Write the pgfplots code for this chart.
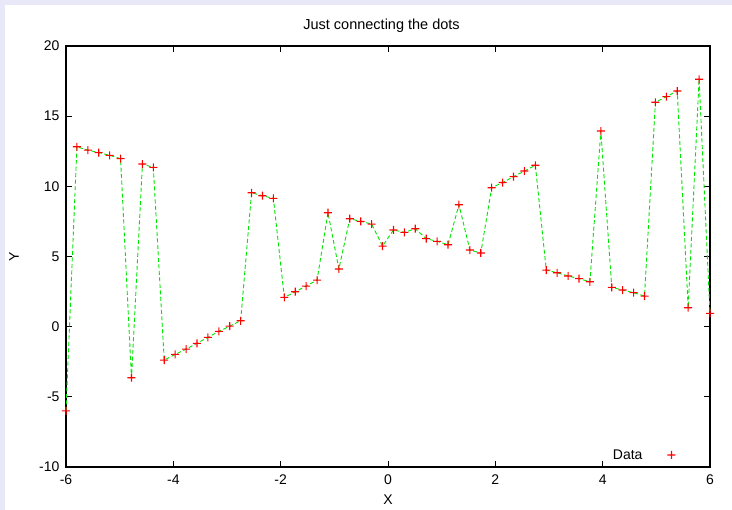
\documentclass[border=0pt]{standalone}
\usepackage{fontspec}
\setmainfont{Liberation Sans}
\usepackage{pgfplots}
\usepackage{pgfplotstable}
\pgfplotsset{compat=1.18}
\definecolor{bgl}{RGB}{232,232,248}
\definecolor{gline}{RGB}{0,230,0}
\definecolor{mred}{RGB}{255,0,0}
\pgfdeclareplotmark{fplus}{%
  \pgfpathrectangle{\pgfpoint{-\pgfplotmarksize}{-0.55pt}}{\pgfpoint{2\pgfplotmarksize}{1.1pt}}%
  \pgfpathrectangle{\pgfpoint{-0.55pt}{-\pgfplotmarksize}}{\pgfpoint{1.1pt}{2\pgfplotmarksize}}%
  \pgfusepathqfill}
\pgfplotstableread{
x y
-6.0000 -6.00
-5.7966 12.82
-5.5932 12.58
-5.3898 12.40
-5.1864 12.21
-4.9831 11.97
-4.7797 -3.64
-4.5763 11.59
-4.3729 11.35
-4.1695 -2.38
-3.9661 -1.98
-3.7627 -1.60
-3.5593 -1.19
-3.3559 -0.76
-3.1525 -0.34
-2.9492 0.04
-2.7458 0.42
-2.5424 9.54
-2.3390 9.33
-2.1356 9.14
-1.9322 2.09
-1.7288 2.49
-1.5254 2.89
-1.3220 3.32
-1.1186 8.12
-0.9153 4.11
-0.7119 7.69
-0.5085 7.50
-0.3051 7.31
-0.1017 5.74
0.1017 6.89
0.3051 6.72
0.5085 6.98
0.7119 6.27
0.9153 6.08
1.1186 5.84
1.3220 8.69
1.5254 5.46
1.7288 5.25
1.9322 9.90
2.1356 10.27
2.3390 10.69
2.5424 11.09
2.7458 11.50
2.9492 4.03
3.1525 3.84
3.3559 3.61
3.5593 3.42
3.7627 3.20
3.9661 13.94
4.1695 2.80
4.3729 2.61
4.5763 2.42
4.7797 2.18
4.9831 15.99
5.1864 16.39
5.3898 16.79
5.5932 1.35
5.7966 17.63
6.0000 0.95
}\datatab
\begin{document}
\begin{tikzpicture}[font=\fontsize{14}{16}\selectfont]
\fill[bgl] (0,0) rectangle (732pt,510pt);
\fill[white] (5pt,0) rectangle (732pt,505pt);
\begin{axis}[
  at={(66pt,43pt)}, anchor=south west,
  scale only axis, width=644pt, height=421pt,
  xmin=-6, xmax=6, ymin=-10, ymax=20,
  xtick={-6,-4,...,6}, ytick={-10,-5,...,20},
  tick align=inside, major tick length=6pt,
  axis line style={line width=1.2pt, black},
  every tick/.style={black, line width=1pt},
  /pgf/number format/assume math mode=true,
  ticklabel style={font=\fontsize{14}{16}\selectfont},
  yticklabel style={xshift=-3pt},
  xticklabel style={yshift=-4pt},
  xlabel={X}, ylabel={Y},
  label style={font=\fontsize{14}{16}\selectfont},
  xlabel style={at={(axis description cs:0.5,-0.0784)}, anchor=center},
  ylabel style={at={(axis description cs:-0.0807,0.5)}, anchor=center},
  legend plot pos=right,
  legend style={draw=none, fill=none, inner sep=0pt, outer sep=0pt,
    font=\fontsize{14}{16}\selectfont,
    at={(axis description cs:0.9464,0.0285)}, anchor=east, column sep=23pt},
  clip=false,
]
\node[font=\fontsize{14.5}{16}\selectfont, anchor=center] at (axis description cs:0.49,1.047) {Just connecting the dots};
\addplot[draw=gline, dash pattern=on 4pt off 2.5pt, line width=0.9pt, forget plot] table[x=x,y=y] \datatab;
\addplot[only marks, mark=fplus, mark size=4pt, color=mred, mark options={fill=mred, draw=none}] table[x=x,y=y] \datatab;
\addlegendentry{Data}
\end{axis}
\end{tikzpicture}
\end{document}
